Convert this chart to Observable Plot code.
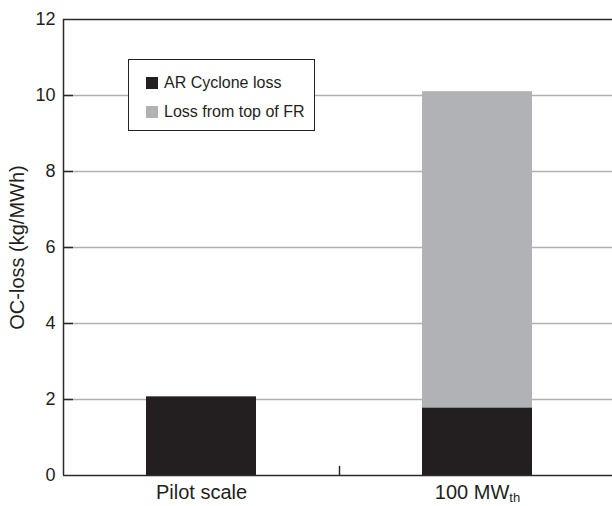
<!DOCTYPE html>
<html>
<head>
<meta charset="utf-8">
<script src="https://cdn.jsdelivr.net/npm/d3@7"></script>
<script src="https://cdn.jsdelivr.net/npm/@observablehq/plot@0.6"></script>
<style>
  html, body { margin: 0; padding: 0; background: #fff; }
  #wrap { position: relative; width: 612px; height: 506px; font-family: "Liberation Sans", Arial, Helvetica, sans-serif; }
  #legend { position: absolute; left: 128px; top: 59px; width: 185px; height: 70px; border: 1.5px solid #222; background: #fff; box-sizing: content-box; }
  .row { position: absolute; left: 17px; display: flex; align-items: center; font-size: 16px; color: #231f20; }
  .sw { width: 12px; height: 12px; margin-right: 6px; }
</style>
</head>
<body>
<div id="wrap"></div>
<script>
const categories = ["Pilot scale", "100 MWth"];
const series = ["AR Cyclone loss", "Loss from top of FR"];
const arCycloneLoss = [2.07, 1.78];
const lossFromTopFR = [0, 8.32];
const yTicks = [0, 2, 4, 6, 8, 10, 12];
const gridTicks = [2, 4, 6, 8, 10];
const colors = ["#231f20", "#b1b2b6"];

const data = [];
categories.forEach((c, i) => {
  data.push({cat: c, series: series[0], value: arCycloneLoss[i]});
  data.push({cat: c, series: series[1], value: lossFromTopFR[i]});
});

const step = (615 - 63) / 2;
const font = "Liberation Sans, Arial, Helvetica, sans-serif";

const chart = Plot.plot({
  width: 612,
  height: 506,
  marginLeft: 63,
  marginRight: 0,
  marginTop: 19,
  marginBottom: 31,
  style: {fontFamily: font, fontSize: "18px", color: "#231f20", background: "#fff"},
  x: {domain: categories, range: [63, 615], paddingInner: 0.6, paddingOuter: 0.3, align: 0.5},
  y: {domain: [0, 12]},
  color: {domain: series, range: colors},
  marks: [
    Plot.ruleY(gridTicks, {stroke: "#b0b0b0", strokeWidth: 1.5}),
    Plot.barY(data, {x: "cat", y: "value", fill: "series"}),
    Plot.ruleY([0, 12], {stroke: "#2a2a2a", strokeWidth: 1.5}),
    Plot.ruleX([categories[0]], {dx: -step / 2, y1: 0, y2: 12, stroke: "#2a2a2a", strokeWidth: 1.5}),
    Plot.ruleX([categories[1]], {dx: -step / 2, y1: 0, y2: 0.24, stroke: "#2a2a2a", strokeWidth: 1.5}),
    Plot.tickY(gridTicks, {insetRight: 612 - 63 - 10, stroke: "#2a2a2a", strokeWidth: 1.5}),
    Plot.axisY(yTicks, {tickSize: 0, tickPadding: 8, fontSize: 18, label: null}),
    Plot.axisX({tickSize: 0, tickPadding: 9, fontSize: 20, label: null}),
    Plot.text(["OC-loss (kg/MWh)"], {frameAnchor: "left", textAnchor: "middle", dx: -46, rotate: -90, fontSize: 20, fill: "#231f20"})
  ]
});

d3.select(chart).selectAll("text").each(function() {
  if (this.textContent === "100 MWth") {
    const t = d3.select(this);
    t.text("100 MW");
    t.append("tspan").attr("font-size", 13).attr("dy", "0.28em").text("th");
  }
});

const wrap = document.getElementById("wrap");
wrap.appendChild(chart);
const legend = document.createElement("div");
legend.id = "legend";
series.forEach((s, i) => {
  const row = document.createElement("div");
  row.className = "row";
  row.style.top = (i === 0 ? 14 : 43) + "px";
  row.innerHTML = `<div class="sw" style="background:${colors[i]}"></div><span>${s}</span>`;
  legend.appendChild(row);
});
wrap.appendChild(legend);
</script>
</body>
</html>
